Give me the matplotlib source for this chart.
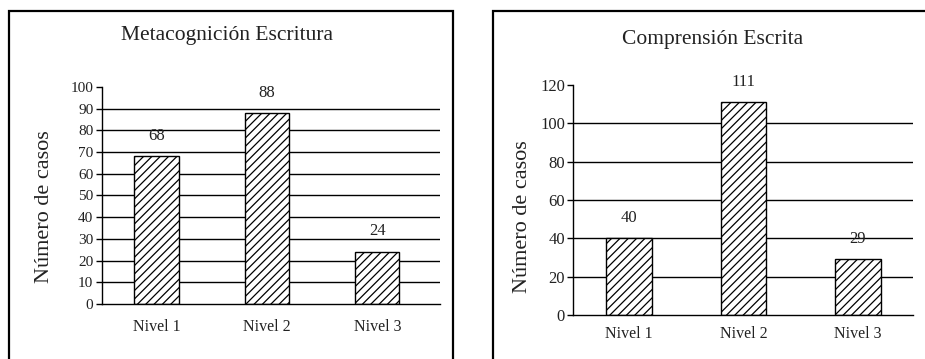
import matplotlib
matplotlib.use("Agg")
import matplotlib.pyplot as plt
from matplotlib.patches import Rectangle

plt.rcParams['font.family'] = ['Liberation Serif', 'DejaVu Serif']
plt.rcParams['hatch.linewidth'] = 0.9
plt.rcParams['text.color'] = '#222222'
plt.rcParams['xtick.labelcolor'] = '#222222'
plt.rcParams['ytick.labelcolor'] = '#222222'

niveles = ["Nivel 1", "Nivel 2", "Nivel 3"]
meta_casos = [68, 88, 24]
comp_casos = [40, 111, 29]
meta_ticks = list(range(0, 101, 10))
comp_ticks = list(range(0, 121, 20))

fig = plt.figure(figsize=(9.25, 3.59), dpi=100)

# panel frames
fig.add_artist(Rectangle((9 / 925, -0.1), 444 / 925, 1.1 - 11 / 359, transform=fig.transFigure,
                         fill=False, edgecolor="black", linewidth=1.6))
fig.add_artist(Rectangle((493 / 925, -0.1), 440 / 925, 1.1 - 11 / 359, transform=fig.transFigure,
                         fill=False, edgecolor="black", linewidth=1.6))


def panel(rect, values, ticks, xlim, title, title_xy, ylab_xy, tick_size, xpad):
    ax = fig.add_axes(rect)
    x = range(len(niveles))
    for t in ticks[1:-1]:
        ax.axhline(t, color="black", linewidth=1.0, zorder=1)
    bars = ax.bar(x, values, width=0.4, facecolor="white", edgecolor="black",
                  linewidth=1.0, hatch="////", zorder=2)
    for b, v in zip(bars, values):
        ax.annotate(str(v), (b.get_x() + b.get_width() / 2, v), xytext=(0, 9),
                    textcoords="offset points", ha="center", va="bottom", fontsize=12)
    ax.set_xlim(*xlim)
    ax.set_ylim(ticks[0], ticks[-1])
    ax.set_yticks(ticks)
    ax.set_xticks(list(x))
    ax.set_xticklabels(niveles)
    ax.spines["top"].set_visible(False)
    ax.spines["right"].set_visible(False)
    ax.spines["left"].set_linewidth(1.0)
    ax.spines["bottom"].set_linewidth(1.0)
    ax.tick_params(axis="y", direction="out", length=4, width=1, labelsize=tick_size, pad=2)
    ax.tick_params(axis="x", length=0, labelsize=11.5, pad=xpad)
    ax.patch.set_alpha(0)
    fig.text(title_xy[0], title_xy[1], title, ha="center", va="center", fontsize=15.5)
    fig.text(ylab_xy[0], ylab_xy[1], "Número de casos", ha="center", va="center",
             rotation=90, fontsize=16)
    return ax


panel([0.1099, 0.1532, 0.3658, 0.6045], meta_casos, meta_ticks, (-0.496, 2.568),
      "Metacognición Escritura", (0.2454, 0.9025), (0.0486, 0.4234), 11, 11)
panel([0.6198, 0.1226, 0.3669, 0.6407], comp_casos, comp_ticks, (-0.49, 2.48),
      "Comprensión Escrita", (0.7708, 0.8886), (0.5654, 0.3955), 12, 8)

fig.savefig("out.png", dpi=100)
